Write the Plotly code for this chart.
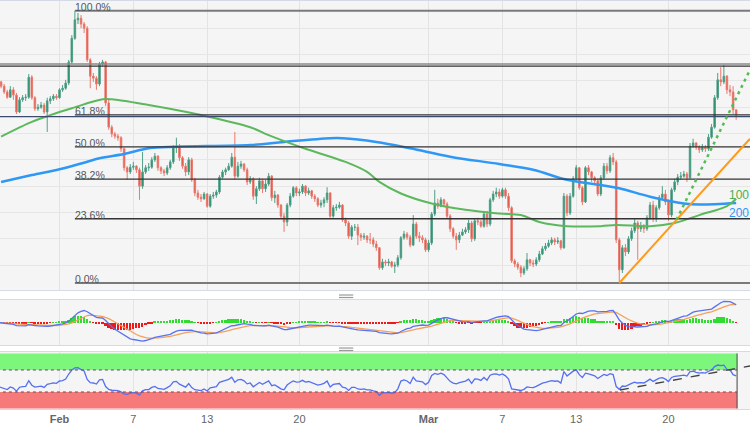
import pandas as pd
import plotly.graph_objects as go
from plotly.subplots import make_subplots

# 4H EUR/USD candles, prices in pips (x 1e-4).
# open of each candle = close of the one before it
first_open = 10894
close_pips = [
    10898, 10890, 10879, 10869, 10883, 10873, 10841, 10864, 10868, 10869,
    10907, 10868, 10847, 10850, 10854, 10841, 10862, 10866, 10871, 10868,
    10883, 10886, 10896, 10936, 10981, 11016, 11019, 11008, 11000, 10940,
    10909, 10905, 10894, 10932, 10936, 10858, 10812, 10799, 10795, 10792,
    10771, 10735, 10727, 10736, 10738, 10731, 10700, 10727, 10735, 10736,
    10750, 10757, 10735, 10729, 10725, 10735, 10746, 10773, 10776, 10754,
    10738, 10727, 10750, 10712, 10687, 10679, 10676, 10685, 10662, 10681,
    10683, 10689, 10717, 10727, 10731, 10738, 10755, 10719, 10738, 10742,
    10731, 10708, 10714, 10681, 10695, 10710, 10695, 10704, 10719, 10678,
    10683, 10664, 10643, 10632, 10664, 10681, 10697, 10687, 10689, 10700,
    10687, 10691, 10681, 10676, 10664, 10668, 10674, 10687, 10643, 10659,
    10660, 10664, 10636, 10630, 10605, 10622, 10622, 10607, 10603, 10605,
    10598, 10598, 10590, 10583, 10545, 10556, 10554, 10556, 10548, 10550,
    10564, 10602, 10609, 10603, 10588, 10628, 10605, 10602, 10598, 10579,
    10592, 10647, 10668, 10662, 10674, 10666, 10643, 10619, 10605, 10598,
    10607, 10613, 10617, 10630, 10600, 10634, 10632, 10624, 10647, 10628,
    10674, 10685, 10689, 10681, 10693, 10681, 10659, 10558, 10552, 10546,
    10535, 10543, 10560, 10554, 10552, 10560, 10571, 10581, 10586, 10592,
    10598, 10594, 10596, 10583, 10681, 10649, 10681, 10714, 10735, 10697,
    10670, 10735, 10727, 10716, 10710, 10685, 10716, 10738, 10729, 10754,
    10746, 10598, 10541, 10583, 10575, 10600, 10615, 10630, 10619, 10624,
    10619, 10640, 10664, 10638, 10659, 10678, 10685, 10670, 10645, 10693,
    10708, 10717, 10719, 10723, 10716, 10776, 10782, 10774, 10769, 10774,
    10771, 10793, 10812, 10868, 10902, 10898, 10909, 10883, 10879, 10845,
    10835,
]
high_pips = [
    10902, 10900, 10894, 10883, 10890, 10888, 10877, 10869, 10873, 10875,
    10913, 10911, 10871, 10856, 10860, 10858, 10868, 10871, 10875, 10875,
    10886, 10892, 10902, 10940, 10987, 11033, 11029, 11025, 11012, 11004,
    10943, 10915, 10909, 10936, 10940, 10938, 10864, 10816, 10803, 10799,
    10795, 10773, 10738, 10742, 10746, 10740, 10735, 10765, 10740, 10744,
    10755, 10763, 10759, 10738, 10733, 10740, 10750, 10778, 10792, 10780,
    10757, 10744, 10755, 10754, 10716, 10693, 10685, 10689, 10687, 10685,
    10689, 10693, 10721, 10731, 10735, 10744, 10763, 10803, 10746, 10748,
    10744, 10735, 10719, 10717, 10700, 10716, 10714, 10712, 10725, 10721,
    10691, 10685, 10666, 10649, 10668, 10687, 10700, 10700, 10695, 10704,
    10702, 10697, 10693, 10685, 10679, 10674, 10679, 10698, 10689, 10664,
    10666, 10670, 10666, 10640, 10634, 10626, 10628, 10628, 10611, 10611,
    10607, 10611, 10603, 10596, 10584, 10562, 10560, 10562, 10558, 10556,
    10569, 10605, 10615, 10613, 10607, 10645, 10632, 10613, 10607, 10602,
    10598, 10651, 10693, 10676, 10679, 10676, 10670, 10647, 10622, 10611,
    10613, 10619, 10622, 10636, 10634, 10638, 10640, 10636, 10653, 10653,
    10678, 10691, 10697, 10695, 10697, 10697, 10687, 10662, 10562, 10556,
    10550, 10548, 10573, 10562, 10560, 10565, 10577, 10586, 10592, 10598,
    10603, 10602, 10603, 10598, 10687, 10685, 10687, 10719, 10740, 10736,
    10700, 10738, 10740, 10729, 10719, 10714, 10721, 10744, 10744, 10759,
    10763, 10750, 10602, 10588, 10590, 10605, 10621, 10638, 10634, 10632,
    10628, 10645, 10670, 10672, 10664, 10683, 10700, 10693, 10674, 10697,
    10714, 10723, 10727, 10729, 10727, 10782, 10790, 10784, 10778, 10780,
    10778, 10799, 10818, 10873, 10915, 10926, 10930, 10911, 10892, 10890,
    10845,
]
low_pips = [
    10890, 10886, 10875, 10866, 10868, 10864, 10837, 10839, 10860, 10862,
    10866, 10864, 10843, 10843, 10847, 10837, 10803, 10856, 10862, 10864,
    10866, 10879, 10883, 10892, 10932, 10978, 11008, 11000, 10991, 10936,
    10886, 10898, 10883, 10890, 10928, 10852, 10807, 10793, 10790, 10786,
    10765, 10729, 10712, 10723, 10731, 10725, 10674, 10695, 10723, 10729,
    10733, 10746, 10729, 10723, 10719, 10721, 10731, 10742, 10763, 10748,
    10733, 10719, 10721, 10708, 10681, 10674, 10670, 10674, 10659, 10659,
    10676, 10678, 10685, 10714, 10721, 10729, 10735, 10712, 10716, 10733,
    10727, 10702, 10704, 10674, 10666, 10691, 10687, 10689, 10700, 10672,
    10668, 10659, 10638, 10613, 10624, 10660, 10678, 10681, 10681, 10685,
    10681, 10683, 10676, 10670, 10660, 10659, 10660, 10668, 10640, 10640,
    10653, 10657, 10632, 10624, 10600, 10598, 10615, 10588, 10596, 10598,
    10592, 10590, 10584, 10577, 10541, 10541, 10548, 10548, 10545, 10535,
    10546, 10560, 10598, 10598, 10584, 10586, 10600, 10594, 10592, 10575,
    10575, 10588, 10643, 10657, 10660, 10660, 10638, 10613, 10600, 10579,
    10592, 10605, 10609, 10611, 10594, 10596, 10626, 10621, 10621, 10622,
    10624, 10670, 10679, 10676, 10678, 10676, 10653, 10554, 10546, 10541,
    10527, 10531, 10539, 10548, 10546, 10548, 10556, 10569, 10577, 10583,
    10588, 10588, 10590, 10579, 10581, 10643, 10645, 10678, 10710, 10693,
    10664, 10668, 10721, 10708, 10702, 10681, 10681, 10712, 10723, 10725,
    10740, 10592, 10516, 10535, 10567, 10571, 10596, 10611, 10560, 10613,
    10611, 10615, 10636, 10632, 10632, 10655, 10676, 10664, 10634, 10641,
    10689, 10702, 10712, 10716, 10708, 10714, 10773, 10769, 10763, 10765,
    10765, 10767, 10790, 10809, 10864, 10890, 10894, 10875, 10871, 10837,
    10826,
]

# 100 and 200 SMA (candle index, pips)
ma100_idx = [1, 11, 17, 24, 34, 37, 49, 66, 82, 88, 98, 101, 113, 120, 124,
             131, 141, 152, 163, 170, 176, 185, 196, 201, 212, 220, 228, 237, 240]
ma100_pips = [10794, 10822, 10835, 10848, 10865, 10865, 10854, 10835, 10812,
              10797, 10775, 10769, 10746, 10727, 10708, 10686, 10667, 10655,
              10648, 10645, 10632, 10624, 10624, 10626, 10624, 10630, 10645,
              10662, 10676]
ma200_idx = [1, 11, 20, 27, 33, 41, 49, 58, 82, 93, 108, 112, 123, 134, 147,
             163, 174, 185, 196, 202, 212, 223, 228, 240]
ma200_pips = [10708, 10721, 10732, 10743, 10753, 10761, 10772, 10775, 10778,
              10784, 10791, 10791, 10784, 10772, 10756, 10742, 10731, 10712,
              10702, 10696, 10680, 10667, 10665, 10668]

# horizontal levels drawn across the whole chart (pips)
resist_grey = 10932
resist_dark = 10928
support_blue = 10832

fib_ratios = [1.0, 0.618, 0.5, 0.382, 0.236, 0.0]
fib_labels = ["100.0%", "61.8%", "50.0%", "38.2%", "23.6%", "0.0%"]

# trend lines (candle index, value)
orange_trend_x, orange_trend_y = [202, 244.5], [10516, 10790]
green_trend_x, green_trend_y = [220.6, 244.5], [10636, 10921]
rsi_trend_x, rsi_trend_y = [202.2, 244.5], [33.6, 77.3]

tick_idx = [20, 44, 68, 98, 140, 164, 188, 218]
tick_text = ["<b>Feb</b>", "7", "13", "20", "<b>Mar</b>", "7", "13", "20"]

X_RANGE = [0.65, 244.5]
BAND_END = 240.3

# ---------------------------------------------------------------------------
closes = pd.Series(close_pips) / 1e4
highs = [v / 1e4 for v in high_pips]
lows = [v / 1e4 for v in low_pips]
opens = [first_open / 1e4] + list(closes[:-1])
idx = list(range(len(closes)))

ema12 = closes.ewm(span=12, adjust=False).mean()
ema26 = closes.ewm(span=26, adjust=False).mean()
macd = ema12 - ema26
signal = macd.ewm(span=9, adjust=False).mean()
hist = macd - signal

# RSI(14), Wilder smoothing seeded with the first 14 moves
delta = closes.diff()
gains = delta.clip(lower=0)
losses = -delta.clip(upper=0)
avg_g = [gains[1:15].mean()]
avg_l = [losses[1:15].mean()]
for i in range(1, len(closes)):
    avg_g.append((13 * avg_g[-1] + gains[i]) / 14)
    avg_l.append((13 * avg_l[-1] + losses[i]) / 14)
rsi = [100 - 100 / (1 + g / max(l, 1e-9)) for g, l in zip(avg_g, avg_l)]

fig = make_subplots(rows=3, cols=1, shared_xaxes=True)

fig.add_trace(
    go.Candlestick(
        x=idx, open=opens, high=highs, low=lows, close=list(closes),
        increasing=dict(line=dict(color="#4f9f86", width=1), fillcolor="#1d8a69"),
        decreasing=dict(line=dict(color="#ea7a6e", width=1), fillcolor="#e0483a"),
        hoverinfo="skip", showlegend=False,
    ),
    row=1, col=1,
)

fig.add_trace(go.Scatter(x=ma200_idx, y=[v / 1e4 for v in ma200_pips], mode="lines",
                         line=dict(color="#2f98f5", width=2.5, shape="spline"),
                         showlegend=False, hoverinfo="skip"), row=1, col=1)
fig.add_trace(go.Scatter(x=ma100_idx, y=[v / 1e4 for v in ma100_pips], mode="lines",
                         line=dict(color="#5cb85c", width=2, shape="spline"),
                         showlegend=False, hoverinfo="skip"), row=1, col=1)

# full-width horizontal levels
for lvl, col, w in [(resist_grey, "#8a8a8a", 1.6), (resist_dark, "#333333", 1.4),
                    (support_blue, "#3b4b6e", 1.3)]:
    fig.add_trace(go.Scatter(x=X_RANGE, y=[lvl / 1e4] * 2, mode="lines",
                             line=dict(color=col, width=w), showlegend=False,
                             hoverinfo="skip"), row=1, col=1)

# fibonacci retracement from the Feb high to the Mar low
hi = max(highs)
lo = min(lows)
hi_idx = highs.index(hi)
for r, lab in zip(fib_ratios, fib_labels):
    lvl = lo + r * (hi - lo)
    edge = r in (0.0, 1.0)
    fig.add_trace(go.Scatter(x=[hi_idx, X_RANGE[1]], y=[lvl, lvl], mode="lines",
                             line=dict(color="#7a7a7a" if edge else "#333333",
                                       width=2 if edge else 1.3),
                             showlegend=False, hoverinfo="skip"), row=1, col=1)
    fig.add_annotation(x=hi_idx - 0.4, y=lvl, text=lab, showarrow=False,
                       xanchor="left", yanchor="bottom", yshift=-3, borderpad=0,
                       font=dict(size=10.5, color="#555555"), xref="x", yref="y")

fig.add_trace(go.Scatter(x=orange_trend_x, y=[v / 1e4 for v in orange_trend_y],
                         mode="lines", line=dict(color="#ff9a1a", width=2),
                         showlegend=False, hoverinfo="skip"), row=1, col=1)
fig.add_trace(go.Scatter(x=green_trend_x, y=[v / 1e4 for v in green_trend_y],
                         mode="lines", line=dict(color="#55bb55", width=2.5, dash="3px,4px"),
                         showlegend=False, hoverinfo="skip"), row=1, col=1)

# SMA tags at the right edge
fig.add_annotation(x=1, y=ma100_pips[-1] / 1e4 + 0.0007, text="100",
                   showarrow=False, xanchor="right", xref="paper", yref="y",
                   borderpad=0, font=dict(size=12, color="#4cae4c"))
fig.add_annotation(x=1, y=ma200_pips[-1] / 1e4 - 0.0019, text="200",
                   showarrow=False, xanchor="right", xref="paper", yref="y",
                   borderpad=0, font=dict(size=12, color="#2f98f5"))

# MACD panel
fig.add_trace(go.Bar(x=idx, y=list(hist), width=0.6,
                     marker=dict(color=["#2fdc2f" if v >= 0 else "#f01818" for v in hist],
                                 line=dict(width=0)),
                     showlegend=False, hoverinfo="skip"), row=2, col=1)
fig.add_trace(go.Scatter(x=idx, y=list(signal), mode="lines",
                         line=dict(color="#f5a05a", width=1.3),
                         showlegend=False, hoverinfo="skip"), row=2, col=1)
fig.add_trace(go.Scatter(x=idx, y=list(macd), mode="lines",
                         line=dict(color="#5a72f0", width=1.3),
                         showlegend=False, hoverinfo="skip"), row=2, col=1)
macd_r = max(abs(macd.max()), abs(macd.min())) * 1.06

# RSI panel
fig.add_shape(type="rect", xref="x3", yref="y3", x0=X_RANGE[0] - 1, x1=BAND_END,
              y0=70, y1=100, fillcolor="#7cf77c", line=dict(width=0), layer="between")
fig.add_shape(type="rect", xref="x3", yref="y3", x0=X_RANGE[0] - 1, x1=BAND_END,
              y0=0, y1=30, fillcolor="#f77a7a", line=dict(width=0), layer="between")
for lv in (70, 30):
    fig.add_shape(type="line", xref="x3", yref="y3", x0=X_RANGE[0] - 1, x1=BAND_END,
                  y0=lv, y1=lv, line=dict(color="#555555", width=1, dash="dot"))
fig.add_shape(type="line", xref="x3", yref="y3", x0=BAND_END, x1=BAND_END,
              y0=0, y1=100, line=dict(color="#444444", width=1))
fig.add_trace(go.Scatter(x=idx, y=rsi, mode="lines",
                         line=dict(color="#5470f0", width=1.3),
                         showlegend=False, hoverinfo="skip"), row=3, col=1)
fig.add_trace(go.Scatter(x=rsi_trend_x, y=rsi_trend_y, mode="lines",
                         line=dict(color="#444444", width=1.4, dash="dash"),
                         showlegend=False, hoverinfo="skip"), row=3, col=1)

# pane grips
for y0 in (0.2787, 0.2726, 0.1491, 0.1430):
    fig.add_shape(type="line", xref="paper", yref="paper", x0=0.452, x1=0.471,
                  y0=y0, y1=y0, line=dict(color="#999999", width=1.2))

axis_line = "#d5dbe6"
fig.update_xaxes(range=X_RANGE, tickvals=tick_idx, ticktext=tick_text,
                 showgrid=True, gridcolor="#e3e3e3", zeroline=False,
                 showline=True, mirror=True, linecolor=axis_line,
                 rangeslider_visible=False, showticklabels=False, ticks="")
fig.update_xaxes(showticklabels=True, tickfont=dict(size=11, color="#666666",
                 family="Liberation Sans, Arial"), row=3, col=1)

fig.update_layout(
    width=750, height=430,
    margin=dict(l=0, r=0, t=0, b=21),
    paper_bgcolor="white", plot_bgcolor="#f5f5f5",
    showlegend=False, bargap=0,
    font=dict(family="Liberation Sans, Arial"),
    yaxis=dict(domain=[0.291, 0.9976], range=[1.05027, 1.10518], tick0=1.05,
               dtick=0.005, showticklabels=False, gridcolor="#e6e6e6",
               zeroline=False, showline=True, mirror=True, linecolor=axis_line),
    yaxis2=dict(domain=[0.1565, 0.2665], range=[-macd_r, macd_r],
                showticklabels=False, showgrid=False, zeroline=False,
                showline=True, mirror=True, linecolor=axis_line),
    yaxis3=dict(domain=[0.0, 0.1394], range=[-0.9, 102.7],
                showticklabels=False, showgrid=False, zeroline=False,
                showline=True, mirror=True, linecolor=axis_line),
)

# the page body has a default 8px margin; drop it so the figure fills the window
fig.write_html("out.html", config={"displayModeBar": False},
               post_script="document.body.style.margin='0';")
